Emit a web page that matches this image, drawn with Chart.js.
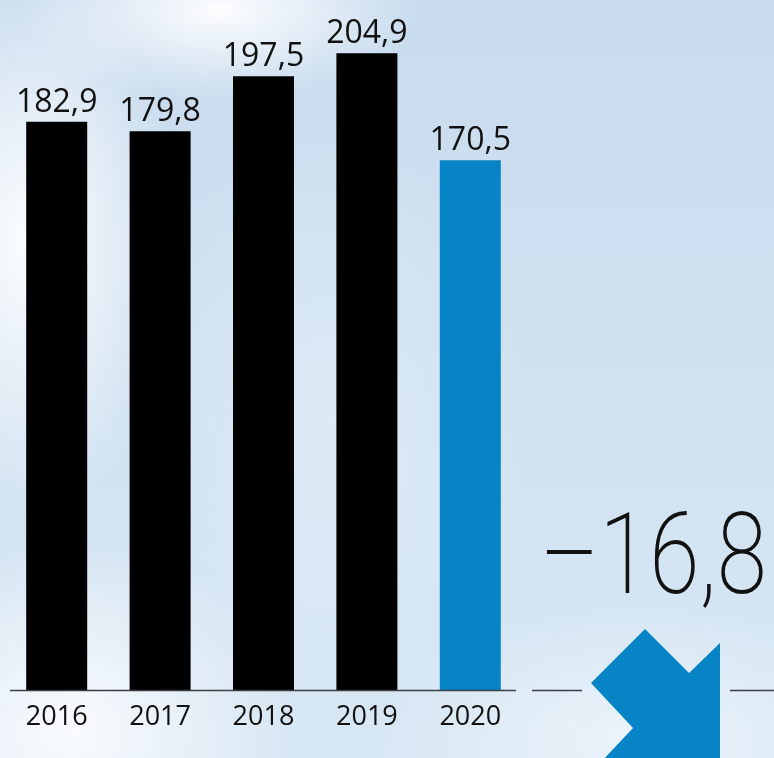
<!DOCTYPE html>
<html lang="de">
<head>
  <meta charset="UTF-8">
  <title>Umsatz 2016–2020</title>
  <style>
    html, body {
      margin: 0;
      padding: 0;
    }
    body {
      width: 774px;
      height: 758px;
      overflow: hidden;
      font-family: "Open Sans", Roboto, sans-serif;
      background-color: #cadcee;
      background-image:
        radial-gradient(ellipse 150px 280px at 30px 240px, rgba(255,255,255,0.95), rgba(255,255,255,0) 100%),
        radial-gradient(ellipse 200px 90px at 220px 10px, rgba(255,255,255,0.95), rgba(255,255,255,0) 100%),
        radial-gradient(ellipse 220px 200px at 70px 730px, rgba(255,255,255,0.85), rgba(255,255,255,0) 100%),
        radial-gradient(ellipse 260px 140px at 640px 740px, rgba(240,247,252,0.8), rgba(240,247,252,0) 100%),
        radial-gradient(ellipse 200px 300px at 330px 420px, rgba(230,240,249,0.6), rgba(230,240,249,0) 100%),
        linear-gradient(180deg, #c8dbee 0%, #d1e2f1 60%, #d8e7f4 100%);
      position: relative;
    }
    #wrap {
      position: absolute;
      left: 0;
      top: 0;
      width: 774px;
      height: 758px;
    }
    #change {
      position: absolute;
      left: 540px;
      top: 497px;
      font-family: Roboto, sans-serif;
      font-size: 114px;
      font-weight: 200;
      line-height: 1;
      color: #111;
      white-space: nowrap;
      transform: scaleX(0.8);
      transform-origin: left top;
    }
  </style>
</head>
<body>

  <div id="wrap"><canvas id="chart"></canvas></div>
  <div id="change">–16,8</div>

  <script src="https://cdn.jsdelivr.net/npm/chart.js"></script>
  <script>
    const years = ['2016', '2017', '2018', '2019', '2020'];
    const values = [182.9, 179.8, 197.5, 204.9, 170.5];
    const barColors = ['#000000', '#000000', '#000000', '#000000', '#0784c6'];

    function formatValue(v) {
      return v.toFixed(1).replace('.', ',');
    }

    // Werte über den Balken, Grundlinie und Pfeil
    const extras = {
      id: 'extras',
      afterDatasetsDraw(chart) {
        const ctx = chart.ctx;
        const yZero = chart.scales.y.getPixelForValue(0);

        ctx.save();
        ctx.strokeStyle = '#3c3f44';
        ctx.lineWidth = 1.5;
        ctx.beginPath();
        ctx.moveTo(10, yZero); ctx.lineTo(516, yZero);
        ctx.moveTo(532, yZero); ctx.lineTo(582, yZero);
        ctx.moveTo(730, yZero); ctx.lineTo(774, yZero);
        ctx.stroke();

        // Pfeil nach rechts unten
        ctx.fillStyle = '#0784c6';
        ctx.beginPath();
        ctx.moveTo(645, 629);
        ctx.lineTo(689, 673);
        ctx.lineTo(720, 643);
        ctx.lineTo(720, 762);
        ctx.lineTo(601, 762);
        ctx.lineTo(633, 728);
        ctx.lineTo(591, 683);
        ctx.closePath();
        ctx.fill();

        ctx.fillStyle = '#111';
        ctx.font = '500 32px "Open Sans", Roboto, sans-serif';
        ctx.textAlign = 'center';
        ctx.textBaseline = 'alphabetic';
        chart.getDatasetMeta(0).data.forEach(function(bar, i) {
          ctx.fillText(formatValue(values[i]), bar.x, bar.y - 10);
        });
        ctx.restore();
      }
    };

    const ctx = document.getElementById('chart').getContext('2d');
    new Chart(ctx, {
      type: 'bar',
      data: {
        labels: years,
        datasets: [{
          data: values,
          backgroundColor: barColors,
          borderWidth: 0,
          categoryPercentage: 1,
          barPercentage: 0.59
        }]
      },
      options: {
        responsive: true,
        maintainAspectRatio: false,
        animation: false,
        layout: {
          padding: { left: 5, right: 252, top: 0, bottom: 13 }
        },
        plugins: {
          legend: { display: false },
          tooltip: { enabled: false }
        },
        scales: {
          x: {
            grid: { display: false, drawTicks: false },
            border: { display: false },
            ticks: {
              color: '#111',
              padding: 11,
              font: { size: 27, weight: '500', family: '"Open Sans", Roboto, sans-serif' }
            }
          },
          y: {
            display: false,
            min: 0,
            max: 222
          }
        }
      },
      plugins: [extras]
    });
  </script>

</body>
</html>
